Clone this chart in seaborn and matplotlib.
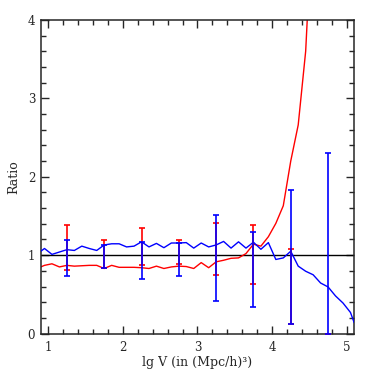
import numpy as np
import pandas as pd
import matplotlib
matplotlib.use("Agg")
import matplotlib.pyplot as plt
from matplotlib.ticker import MultipleLocator
import seaborn as sns

# bin centres in lg V
lgv = [0.90, 0.95, 1.05, 1.15, 1.25, 1.35, 1.45, 1.55, 1.65, 1.75, 1.85, 1.95,
       2.05, 2.15, 2.25, 2.35, 2.45, 2.55, 2.65, 2.75, 2.85, 2.95, 3.05, 3.15,
       3.25, 3.35, 3.45, 3.55, 3.65, 3.75, 3.85, 3.95, 4.05, 4.15, 4.25, 4.35,
       4.45, 4.55, 4.65, 4.75, 4.85, 4.95, 5.05, 5.10]

ratio_blue = [1.05, 1.085, 1.01, 1.04, 1.07, 1.06, 1.115, 1.085, 1.06, 1.13, 1.145, 1.145,
              1.105, 1.115, 1.17, 1.105, 1.15, 1.095, 1.155, 1.155, 1.16, 1.09, 1.155, 1.105,
              1.13, 1.175, 1.09, 1.17, 1.09, 1.165, 1.075, 1.16, 0.945, 0.965, 1.05, 0.86,
              0.795, 0.75, 0.645, 0.595, 0.48, 0.39, 0.27, 0.14]

ratio_red = [0.85, 0.87, 0.89, 0.85, 0.87, 0.86, 0.865, 0.87, 0.87, 0.83, 0.87, 0.845,
             0.845, 0.845, 0.84, 0.83, 0.86, 0.83, 0.85, 0.86, 0.855, 0.83, 0.905, 0.84,
             0.915, 0.935, 0.96, 0.965, 1.02, 1.14, 1.115, 1.235, 1.405, 1.63, 2.2, 2.66,
             3.6, 5.5, 8.0, 10.0, 12.0, 14.0, 16.0, 18.0]

# error bars (lower, upper)
err_x = [1.25, 1.75, 2.25, 2.75, 3.25, 3.75, 4.25, 4.75]
red_lo = [0.81, 0.83, 0.88, 0.89, 0.745, 0.635, 0.12, 0.0]
red_hi = [1.38, 1.195, 1.35, 1.195, 1.415, 1.385, 1.08, 0.0]
blue_lo = [0.73, 0.83, 0.70, 0.73, 0.41, 0.34, 0.12, 0.0]
blue_hi = [1.19, 1.13, 1.17, 1.155, 1.51, 1.295, 1.83, 2.30]

sns.set_style("ticks")
plt.rcParams['font.family'] = ['DejaVu Serif']

df = pd.DataFrame({'lgv': lgv, 'blue': ratio_blue, 'red': ratio_red})

fig = plt.figure(figsize=(3.74, 3.74), dpi=100)
ax = fig.add_axes([0.109, 0.108, 0.838, 0.839])

ax.axhline(1, color='black', lw=1.0, zorder=1)

sns.lineplot(data=df, x='lgv', y='red', color='red', lw=1.0, sort=False, ax=ax, zorder=2)
sns.lineplot(data=df, x='lgv', y='blue', color='blue', lw=1.0, sort=False, ax=ax, zorder=3)

def bars(lo, hi, color, z):
    lo = np.array(lo)
    hi = np.array(hi)
    mid = (lo + hi) / 2
    ax.errorbar(err_x, mid, yerr=(hi - lo) / 2, fmt='none', ecolor=color,
                elinewidth=1.2, capsize=2.2, capthick=1.2, zorder=z, clip_on=True)

bars(red_lo, red_hi, 'red', 4)
bars(blue_lo, blue_hi, 'blue', 5)

ax.set_xlim(0.9, 5.1)
ax.set_ylim(0, 4)
ax.xaxis.set_major_locator(MultipleLocator(1))
ax.xaxis.set_minor_locator(MultipleLocator(0.2))
ax.yaxis.set_major_locator(MultipleLocator(1))
ax.yaxis.set_minor_locator(MultipleLocator(0.2))
ax.tick_params(which='both', direction='in', top=True, right=True, width=1.0,
               labelsize=8.5)
ax.tick_params(axis='x', pad=5)
ax.tick_params(axis='y', pad=4)
ax.tick_params(which='major', length=6)
ax.tick_params(which='minor', length=3.5)
for s in ax.spines.values():
    s.set_linewidth(1.1)

ax.set_xlabel('lg V (in (Mpc/h)³)', fontsize=9, labelpad=2)
ax.set_ylabel('Ratio', fontsize=9, labelpad=5)

fig.savefig('out.png', dpi=100)
